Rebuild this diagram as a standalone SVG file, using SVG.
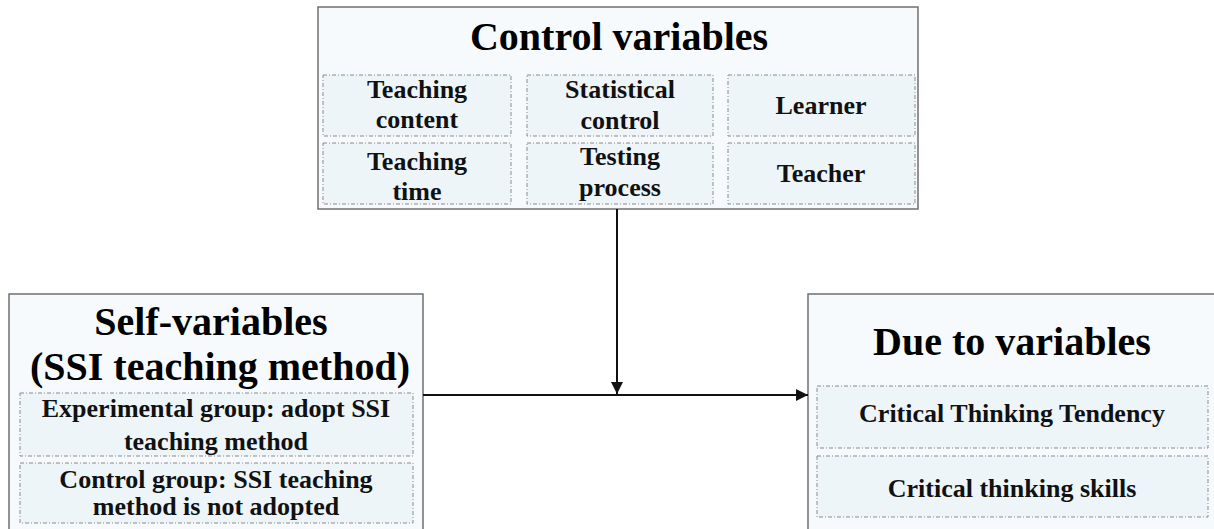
<svg xmlns="http://www.w3.org/2000/svg" width="1214" height="529" viewBox="0 0 1214 529">
<style>
.box{fill:#f6fafc;stroke:#6f6f6f;stroke-width:1.5}
.cell{fill:#eef5f8;stroke:#8a8a8a;stroke-width:1;stroke-dasharray:4 2 1 2}
.title{font-family:"Liberation Serif",serif;font-weight:bold;font-size:40px;fill:#000;text-anchor:middle}
.t{font-family:"Liberation Serif",serif;font-weight:bold;font-size:26px;fill:#111;text-anchor:middle}
.conn{stroke:#111;stroke-width:2;fill:none}
</style>
<defs>
<marker id="arr" viewBox="0 0 12 12" refX="12" refY="6" markerWidth="12" markerHeight="12" markerUnits="userSpaceOnUse" orient="auto">
<path d="M0,0 L12,6 L0,12 Z" fill="#111"/>
</marker>
</defs>
<rect width="1214" height="529" fill="#fff"/>
<g id="control">
<rect class="box" x="318" y="7" width="600" height="202"/>
<text class="title" x="619" y="50">Control variables</text>
<rect class="cell" x="323" y="75" width="188" height="61"/>
<rect class="cell" x="527" y="75" width="186" height="61"/>
<rect class="cell" x="728" y="75" width="187" height="61"/>
<rect class="cell" x="323" y="143" width="188" height="61"/>
<rect class="cell" x="527" y="143" width="186" height="61"/>
<rect class="cell" x="728" y="143" width="187" height="61"/>
<text class="t" x="417" y="98">Teaching</text>
<text class="t" x="417" y="128">content</text>
<text class="t" x="620" y="98">Statistical</text>
<text class="t" x="620" y="129">control</text>
<text class="t" x="821" y="114">Learner</text>
<text class="t" x="417" y="170">Teaching</text>
<text class="t" x="417" y="200">time</text>
<text class="t" x="620" y="165">Testing</text>
<text class="t" x="620" y="196">process</text>
<text class="t" x="821" y="182">Teacher</text>
</g>
<g id="self">
<rect class="box" x="9" y="294" width="414" height="245"/>
<text class="title" x="211" y="335">Self-variables</text>
<text class="title" x="220" y="380">(SSI teaching method)</text>
<rect class="cell" x="20" y="393" width="393" height="63"/>
<rect class="cell" x="20" y="463" width="393" height="60"/>
<text class="t" x="216" y="417">Experimental group: adopt SSI</text>
<text class="t" x="216" y="450">teaching method</text>
<text class="t" x="216" y="488">Control group: SSI teaching</text>
<text class="t" x="216" y="515">method is not adopted</text>
</g>
<g id="due">
<rect class="box" x="808" y="294" width="410" height="245"/>
<text class="title" x="1012" y="355">Due to variables</text>
<rect class="cell" x="817" y="386" width="391" height="62"/>
<rect class="cell" x="817" y="456" width="391" height="61"/>
<text class="t" x="1012" y="422">Critical  Thinking Tendency</text>
<text class="t" x="1012" y="497">Critical  thinking skills</text>
</g>
<g id="connectors">
<line class="conn" x1="617" y1="209" x2="617" y2="394" marker-end="url(#arr)"/>
<line class="conn" x1="423" y1="395" x2="808" y2="395" marker-end="url(#arr)"/>
</g>
</svg>
